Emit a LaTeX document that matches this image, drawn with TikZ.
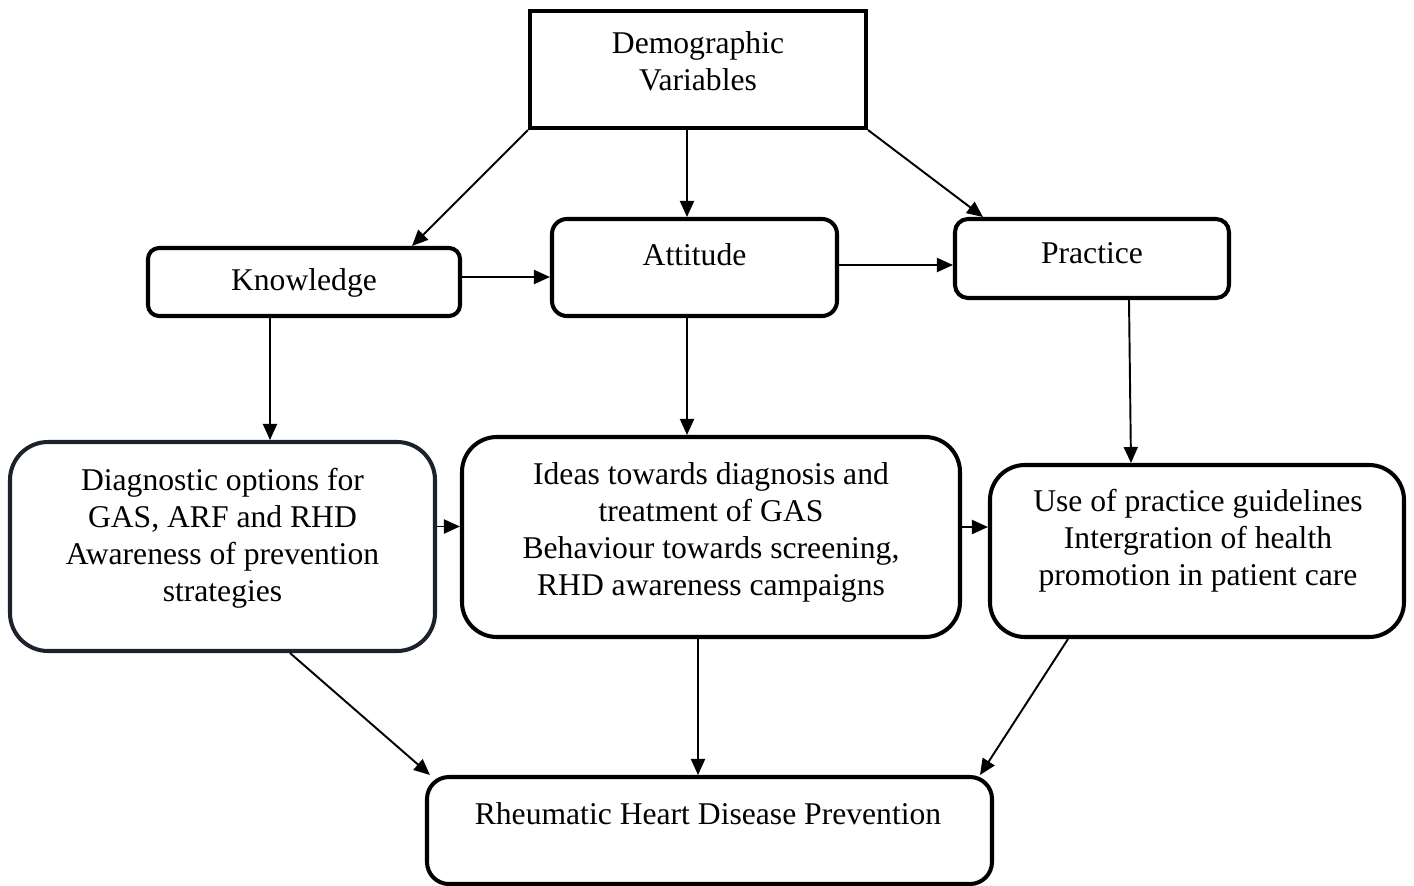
\documentclass[tikz,border=0pt]{standalone}
\usepackage{fontspec}
\setmainfont{Liberation Serif}
\usetikzlibrary{arrows.meta}
\definecolor{navyborder}{RGB}{28,34,44}
\begin{document}
\begin{tikzpicture}[
  boxbase/.style={draw=black, line width=2.3pt, inner sep=0pt, fill=white},
  sharpbox/.style={boxbase},
  roundbox/.style={boxbase, rounded corners=#1},
  lbl/.style={inner sep=0pt, align=center, font=\fontsize{18}{21}\selectfont},
  conn/.style={line width=1.1pt, -{Triangle[length=0.32cm,width=0.28cm]}}
]
\useasboundingbox (0,0) rectangle (28.28,-17.72);

% boxes
\node[sharpbox, minimum width=6.72cm, minimum height=2.34cm] (demo) at (13.96,-1.39) {};
\node[roundbox=0.22cm, minimum width=6.24cm, minimum height=1.36cm] (know) at (6.08,-5.64) {};
\node[roundbox=0.3cm, minimum width=5.7cm, minimum height=1.94cm] (att) at (13.89,-5.35) {};
\node[roundbox=0.26cm, minimum width=5.48cm, minimum height=1.58cm] (prac) at (21.84,-5.17) {};
\node[roundbox=0.76cm, draw=navyborder, minimum width=8.5cm, minimum height=4.18cm] (diag) at (4.45,-10.93) {};
\node[roundbox=0.7cm, minimum width=9.96cm, minimum height=4.0cm] (ideas) at (14.22,-10.74) {};
\node[roundbox=0.7cm, minimum width=8.28cm, minimum height=3.44cm] (use) at (23.94,-11.02) {};
\node[roundbox=0.44cm, minimum width=11.3cm, minimum height=2.14cm] (rhd) at (14.19,-16.61) {};

% texts
\node[lbl] (demot) at (13.96,-1.23) {Demographic\\Variables};
\node[lbl] (knowt) at (6.08,-5.66) {Knowledge};
\node[lbl] (attt) at (13.89,-5.10) {Attitude};
\node[lbl] (pract) at (21.84,-5.06) {Practice};
\node[lbl] (diagt) at (4.45,-10.77) {Diagnostic options for\\GAS, ARF and RHD\\Awareness of prevention\\strategies};
\node[lbl] (ideast) at (14.22,-10.65) {Ideas towards diagnosis and\\treatment of GAS\\Behaviour towards screening,\\RHD awareness campaigns};
\node[lbl] (uset) at (23.96,-10.82) {Use of practice guidelines\\Intergration of health\\promotion in patient care};
\node[lbl] (rhdt) at (14.16,-16.28) {Rheumatic Heart Disease Prevention};

% connectors
\draw[conn] (demo.south west) -- ([xshift=-1cm]know.north east);
\draw[conn] ([xshift=-0.15cm]att.north |- demo.south) -- ([xshift=-0.15cm]att.north);
\draw[conn] (demo.south east) -- ([xshift=0.6cm]prac.north west);
\draw[conn] ([yshift=0.1cm]know.east) -- ([yshift=0.1cm]know.east -| att.west);
\draw[conn] ([yshift=0.05cm]att.east) -- ([yshift=0.05cm]att.east -| prac.west);
\draw[conn] ([xshift=-0.68cm]know.south) -- ([xshift=-0.68cm]know.south |- diag.north);
\draw[conn] ([xshift=-0.15cm]att.south) -- ([xshift=-0.15cm]att.south |- ideas.north);
\draw[conn] ([xshift=0.74cm]prac.south) -- ([xshift=-1.32cm]use.north);
\draw[conn] ([yshift=0.4cm]diag.east) -- ([yshift=0.4cm]diag.east -| ideas.west);
\draw[conn] ([yshift=0.2cm]ideas.east) -- ([yshift=0.2cm]ideas.east -| use.west);
\draw[conn] ([xshift=1.35cm]diag.south) -- ([xshift=0.1cm]rhd.north west);
\draw[conn] ([xshift=-0.26cm]ideas.south) -- ([xshift=-0.26cm]ideas.south |- rhd.north);
\draw[conn] ([xshift=-2.58cm]use.south) -- ([xshift=-0.28cm]rhd.north east);
\end{tikzpicture}
\end{document}
